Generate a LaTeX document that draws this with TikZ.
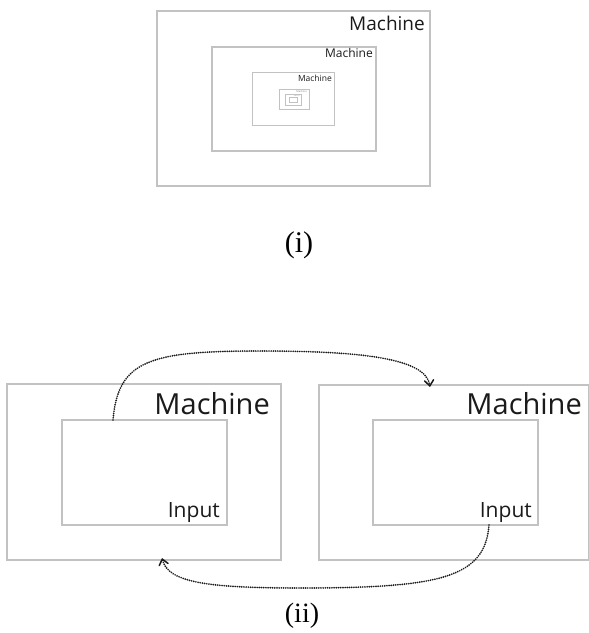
\documentclass[tikz,border=0pt]{standalone}
\usepackage{fontspec}
\setmainfont{Liberation Serif}
\newfontfamily\sansf{Open Sans}
\usetikzlibrary{arrows.meta}
\definecolor{boxgray}{HTML}{C2C2C2}
\definecolor{inkgray}{HTML}{1A1A1A}
\tikzset{
  frame/.style={draw=boxgray, line width=1.1pt},
  thinframe/.style={draw=boxgray, line width=0.8pt},
  lbl/.style={inner sep=0pt, text=inkgray, font=\sansf},
  flow/.style={line width=1.9pt, line cap=round, dash pattern=on 0pt off 2.2pt, draw=inkgray,
    -{Straight Barb[length=5.5pt,width=9pt,line width=1.5pt,line cap=round]}},
  caption/.style={inner sep=0pt, font=\fontsize{30}{33}\selectfont}
}
\begin{document}
\begin{tikzpicture}[x=1pt,y=-1pt]
\useasboundingbox (0,0) rectangle (589,633);
% ---------- (i) nested machines ----------
\draw[frame] (157,11) rectangle (430,186);
\draw[frame] (212,47) rectangle (376,151);
\draw[thinframe] (252,72) rectangle (334,125);
\draw[thinframe, line width=0.6pt] (279,89) rectangle (309,109);
\draw[thinframe, line width=0.5pt] (285,94) rectangle (301,105);
\draw[thinframe, line width=0.4pt] (289,97) rectangle (297,102);
\node[lbl, anchor=base east, font=\sansf\fontsize{19}{20}\selectfont] (t1) at (425,30) {Machine};
\node[lbl, anchor=base east, font=\sansf\fontsize{12}{13}\selectfont] (t2) at (373,57) {Machine};
\node[lbl, anchor=base east, font=\sansf\fontsize{8.5}{9}\selectfont] (t3) at (332,81) {Machine};
\node[lbl, anchor=base east, text=gray, font=\sansf\fontsize{2.6}{3}\selectfont] (t4) at (307,92.5) {Machine};
\node[lbl, anchor=base east, text=gray, font=\sansf\fontsize{1.4}{2}\selectfont] (t5) at (300,96) {Machine};
\node[caption] (c1) at (299,245) {(i)};
% ---------- (ii) two machines ----------
\coordinate (Lo1) at (7,384);   \coordinate (Lo2) at (281,560);
\coordinate (Li1) at (62,420);  \coordinate (Li2) at (227,525);
\coordinate (Ro1) at (319,385); \coordinate (Ro2) at (588.5,560);
\coordinate (Ri1) at (373,420); \coordinate (Ri2) at (538,525);
\draw[frame] (Lo1) rectangle (Lo2);
\draw[frame] (Li1) rectangle (Li2);
\draw[frame] (Ro1) rectangle (Ro2);
\draw[frame] (Ri1) rectangle (Ri2);
\node[lbl, anchor=base east, font=\sansf\fontsize{29}{30}\selectfont] (ml) at (270,414) {Machine};
\node[lbl, anchor=base east, font=\sansf\fontsize{29}{30}\selectfont] (mr) at (582,414) {Machine};
\node[lbl, anchor=base east, font=\sansf\fontsize{21}{22}\selectfont] (il) at (220,517) {Input};
\node[lbl, anchor=base east, font=\sansf\fontsize{21}{22}\selectfont] (ir) at (532,517) {Input};
\coordinate (s1) at (113,420);
\coordinate (e1) at (430,387);
\coordinate (s2) at (489,525);
\coordinate (e2) at (162,558);
\draw[flow] (s1) .. controls (118,360) and (150,351) .. (260,351)
   .. controls (360,351) and (426,358) .. (e1);
\draw[flow] (s2) .. controls (485,578) and (440,588) .. (300,588)
   .. controls (205,588) and (168,582) .. (e2);
\node[caption, font=\fontsize{28}{31}\selectfont] (c2) at (302,616) {(ii)};
\end{tikzpicture}
\end{document}
